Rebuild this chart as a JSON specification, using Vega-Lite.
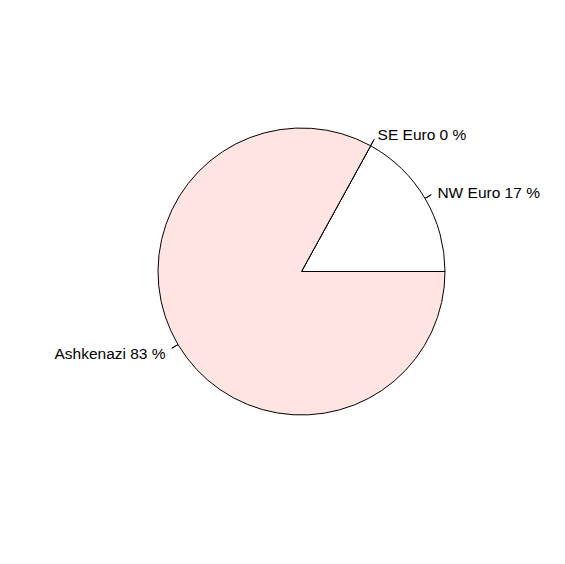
{
  "$schema": "https://vega.github.io/schema/vega-lite/v6.json",
  "width": 401,
  "height": 401,
  "autosize": {"type": "none"},
  "padding": {"left": 101, "top": 71, "right": 63, "bottom": 92},
  "background": "white",
  "config": {"view": {"stroke": null}},
  "data": {
    "values": [
      {"group": "NW Euro", "value": 17, "order": 1, "label": "NW Euro 17 %"},
      {"group": "SE Euro", "value": 0, "order": 2, "label": "SE Euro 0 %"},
      {"group": "Ashkenazi", "value": 83, "order": 3, "label": "Ashkenazi 83 %"}
    ]
  },
  "transform": [
    {"stack": "value", "groupby": [], "sort": [{"field": "order", "order": "ascending"}], "as": ["start", "end"]},
    {"calculate": "(datum.start + datum.end) / 2", "as": "mid"}
  ],
  "layer": [
    {
      "mark": {"type": "arc", "radius": 143.5, "stroke": "black", "strokeWidth": 1},
      "encoding": {
        "theta": {"field": "start", "type": "quantitative", "stack": null, "scale": {"domain": [0, 100], "range": [1.5707963, -4.712389]}},
        "theta2": {"field": "end"},
        "color": {"field": "group", "type": "nominal", "legend": null, "scale": {"domain": ["NW Euro", "SE Euro", "Ashkenazi"], "range": ["#FFFFFF", "#ADD8E6", "#FFE4E1"]}}
      }
    },
    {
      "mark": {"type": "arc", "radius": 150.7, "radius2": 143.5, "stroke": "black", "strokeWidth": 1, "fill": null},
      "encoding": {
        "theta": {"field": "mid", "type": "quantitative", "stack": null},
        "theta2": {"field": "mid"}
      }
    },
    {
      "transform": [{"filter": "datum.group != 'Ashkenazi'"}],
      "mark": {"type": "text", "radius": 157.9, "align": "left", "baseline": "middle", "font": "Liberation Sans", "fontSize": 15.5, "color": "black", "dy": 2},
      "encoding": {
        "theta": {"field": "mid", "type": "quantitative", "stack": null},
        "text": {"field": "label"}
      }
    },
    {
      "transform": [{"filter": "datum.group == 'Ashkenazi'"}],
      "mark": {"type": "text", "radius": 157.9, "align": "right", "baseline": "middle", "font": "Liberation Sans", "fontSize": 15.5, "color": "black", "dy": 2},
      "encoding": {
        "theta": {"field": "mid", "type": "quantitative", "stack": null},
        "text": {"field": "label"}
      }
    }
  ]
}
